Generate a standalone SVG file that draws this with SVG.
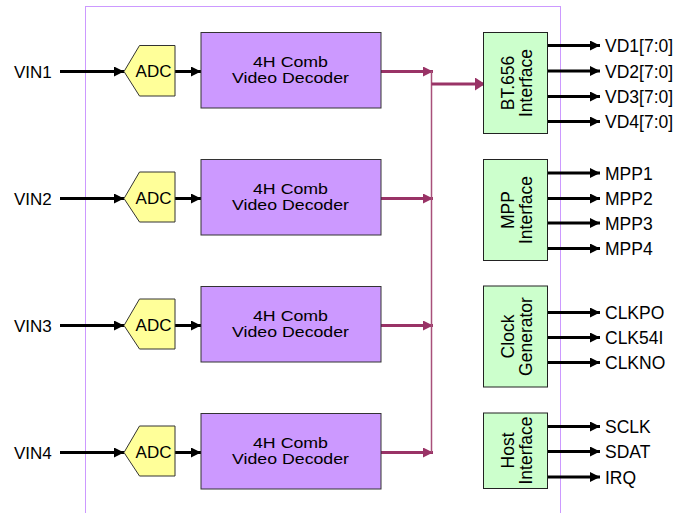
<svg xmlns="http://www.w3.org/2000/svg" width="678" height="513" viewBox="0 0 678 513">
<style>
text{font-family:"Liberation Sans",Arial,sans-serif;fill:#000}
.lbl{font-size:17px}
.out{font-size:17.5px}
.dec{fill:#cc99ff;stroke:#333;stroke-width:1}
.adc{fill:#ffff99;stroke:#333;stroke-width:1}
.grn{fill:#ccffcc;stroke:#222;stroke-width:1}
.dt{font-size:14.5px;text-anchor:middle}
.bt{font-size:17.5px;text-anchor:middle}
.blk{stroke:#000;stroke-width:3;fill:none;marker-end:url(#ah)}
.mag{stroke:#993366;stroke-width:3;fill:none;marker-end:url(#mh)}
</style>
<defs>
<marker id="ah" markerWidth="10" markerHeight="10" refX="10" refY="5" orient="auto" markerUnits="userSpaceOnUse" viewBox="0 0 10 10"><path d="M0,0 L10,5 L0,10 Z" fill="#000"/></marker>
<marker id="mh" markerWidth="10" markerHeight="10" refX="10" refY="5" orient="auto" markerUnits="userSpaceOnUse" viewBox="0 0 10 10"><path d="M0,0 L10,5 L0,10 Z" fill="#993366"/></marker>
<marker id="mh2" markerWidth="10" markerHeight="13" refX="10" refY="6.5" orient="auto" markerUnits="userSpaceOnUse" viewBox="0 0 10 13"><path d="M0,0 L10,6.5 L0,13 Z" fill="#993366"/></marker>
</defs>
<rect id="chip" x="85.5" y="6.5" width="475" height="520" fill="none" stroke="#cc99ff" stroke-width="1"/>
<g id="connectors">
<path class="blk" d="M60,71.5H124"/>
<path class="blk" d="M60,198.5H124"/>
<path class="blk" d="M60,325.5H124"/>
<path class="blk" d="M60,452.5H124"/>
<path class="blk" d="M175,71.5H201"/>
<path class="blk" d="M175,198.5H201"/>
<path class="blk" d="M175,325.5H201"/>
<path class="blk" d="M175,452.5H201"/>
<path class="mag" d="M381,71.5H433"/>
<path class="mag" d="M381,198.5H433"/>
<path class="mag" d="M381,325.5H433"/>
<path class="mag" d="M381,452.5H433"/>
<path d="M431.5,71V452.5" stroke="#a8507a" stroke-width="1.5" fill="none"/>
<path d="M431.5,84H485" stroke="#993366" stroke-width="3" fill="none" marker-end="url(#mh2)"/>
<path class="blk" d="M547,45.5H600"/>
<path class="blk" d="M547,71H600"/>
<path class="blk" d="M547,96.5H600"/>
<path class="blk" d="M547,121.5H600"/>
<path class="blk" d="M547,173H600"/>
<path class="blk" d="M547,198.5H600"/>
<path class="blk" d="M547,223H600"/>
<path class="blk" d="M547,248.5H600"/>
<path class="blk" d="M547,312.5H600"/>
<path class="blk" d="M547,337.5H600"/>
<path class="blk" d="M547,362.5H600"/>
<path class="blk" d="M547,426.5H600"/>
<path class="blk" d="M547,451.5H600"/>
<path class="blk" d="M547,477H600"/>
</g>
<g id="inputs">
<text class="lbl" x="14" y="77.5">VIN1</text>
<text class="lbl" x="14" y="204.5">VIN2</text>
<text class="lbl" x="14" y="331.5">VIN3</text>
<text class="lbl" x="14" y="458.5">VIN4</text>
</g>
<g id="adc1"><polygon class="adc" points="124,71.5 139.5,45.5 175,45.5 175,96 139.5,96"/><text class="lbl" x="153.5" y="77" text-anchor="middle">ADC</text></g>
<g id="adc2"><polygon class="adc" points="124,198.5 139.5,172 175,172 175,222 139.5,222"/><text class="lbl" x="153.5" y="203.5" text-anchor="middle">ADC</text></g>
<g id="adc3"><polygon class="adc" points="124,325.5 139.5,299 175,299 175,349 139.5,349"/><text class="lbl" x="153.5" y="330.5" text-anchor="middle">ADC</text></g>
<g id="adc4"><polygon class="adc" points="124,452.5 139.5,426 175,426 175,476 139.5,476"/><text class="lbl" x="153.5" y="457.5" text-anchor="middle">ADC</text></g>
<g id="dec1"><rect class="dec" x="201" y="32.5" width="180" height="75.5"/><text class="dt" x="290.5" y="66.5" textLength="75" lengthAdjust="spacingAndGlyphs">4H Comb</text><text class="dt" x="290.5" y="83" textLength="117" lengthAdjust="spacingAndGlyphs">Video Decoder</text></g>
<g id="dec2"><rect class="dec" x="201" y="159.5" width="180" height="75.5"/><text class="dt" x="290.5" y="193.5" textLength="75" lengthAdjust="spacingAndGlyphs">4H Comb</text><text class="dt" x="290.5" y="210" textLength="117" lengthAdjust="spacingAndGlyphs">Video Decoder</text></g>
<g id="dec3"><rect class="dec" x="201" y="286.5" width="180" height="75.5"/><text class="dt" x="290.5" y="320.5" textLength="75" lengthAdjust="spacingAndGlyphs">4H Comb</text><text class="dt" x="290.5" y="337" textLength="117" lengthAdjust="spacingAndGlyphs">Video Decoder</text></g>
<g id="dec4"><rect class="dec" x="201" y="413.5" width="180" height="75.5"/><text class="dt" x="290.5" y="447.5" textLength="75" lengthAdjust="spacingAndGlyphs">4H Comb</text><text class="dt" x="290.5" y="464" textLength="117" lengthAdjust="spacingAndGlyphs">Video Decoder</text></g>
<g id="bt656"><rect class="grn" x="483.5" y="32.5" width="64" height="101"/><g transform="translate(515,83) rotate(-90)"><text class="bt" x="0" y="-1.5">BT.656</text><text class="bt" x="0" y="16.5">Interface</text></g></g>
<g id="mpp"><rect class="grn" x="483.5" y="159.5" width="64" height="101"/><g transform="translate(515,210) rotate(-90)"><text class="bt" x="0" y="-1.5">MPP</text><text class="bt" x="0" y="16.5">Interface</text></g></g>
<g id="clock"><rect class="grn" x="483.5" y="286" width="64" height="101"/><g transform="translate(515,336.5) rotate(-90)"><text class="bt" x="0" y="-1.5">Clock</text><text class="bt" x="0" y="16.5">Generator</text></g></g>
<g id="host"><rect class="grn" x="483.5" y="413" width="64" height="75.5"/><g transform="translate(515,450.5) rotate(-90)"><text class="bt" x="0" y="-1.5">Host</text><text class="bt" x="0" y="16.5">Interface</text></g></g>
<g id="outputs">
<text class="out" x="605" y="52">VD1[7:0]</text>
<text class="out" x="605" y="77.5">VD2[7:0]</text>
<text class="out" x="605" y="103">VD3[7:0]</text>
<text class="out" x="605" y="128">VD4[7:0]</text>
<text class="out" x="605" y="179.5">MPP1</text>
<text class="out" x="605" y="205">MPP2</text>
<text class="out" x="605" y="229.5">MPP3</text>
<text class="out" x="605" y="255">MPP4</text>
<text class="out" x="605" y="319">CLKPO</text>
<text class="out" x="605" y="344">CLK54I</text>
<text class="out" x="605" y="369">CLKNO</text>
<text class="out" x="605" y="433">SCLK</text>
<text class="out" x="605" y="458">SDAT</text>
<text class="out" x="605" y="483.5">IRQ</text>
</g>
</svg>
